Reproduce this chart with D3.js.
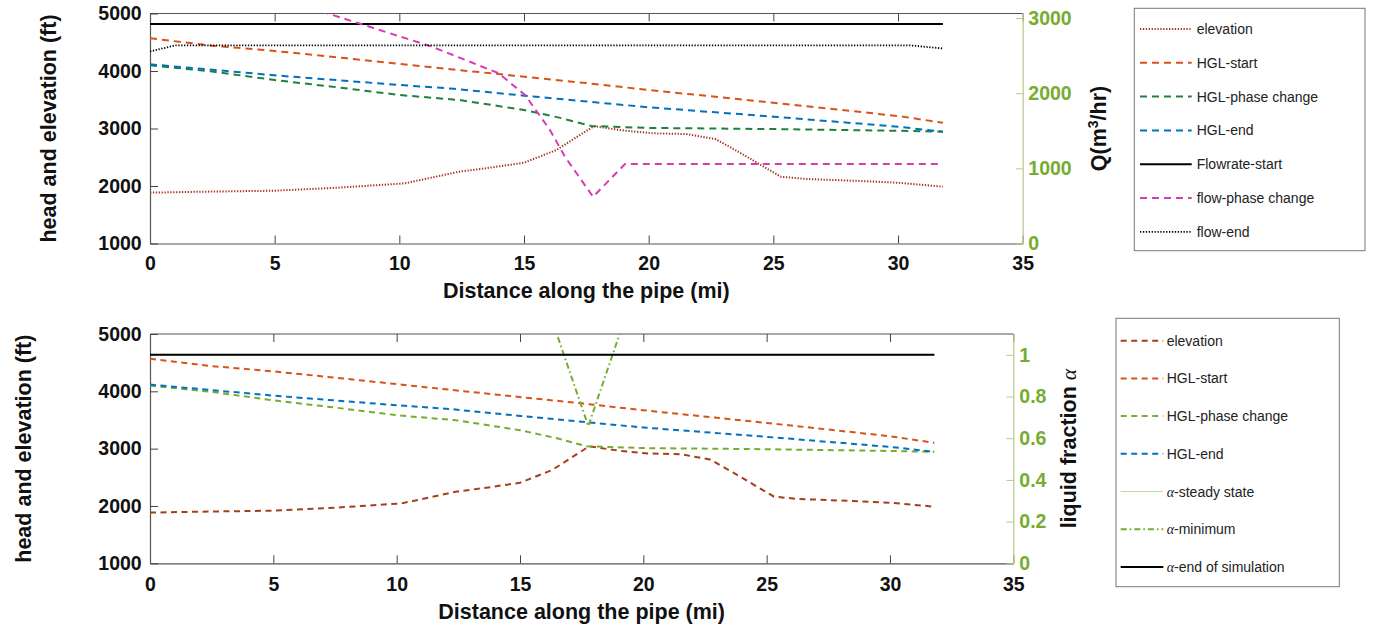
<!DOCTYPE html>
<html>
<head>
<meta charset="utf-8">
<script src="https://cdn.jsdelivr.net/npm/d3@7/dist/d3.min.js"></script>
<style>
  html, body { margin: 0; padding: 0; background: #fff; }
  svg { display: block; font-family: "Liberation Sans", Arial, sans-serif; }
</style>
</head>
<body>
<svg id="chart" width="1373" height="627"></svg>
<script>
// ---- tick values ----
const distTicks = [0, 5, 10, 15, 20, 25, 30, 35];
const headTicks = [1000, 2000, 3000, 4000, 5000];
const flowTicks = [0, 1000, 2000, 3000];
const alphaTicks = [0, 0.2, 0.4, 0.6, 0.8, 1];

// ---- pipeline profile (mi, ft) ----
const elevMi = [0, 2, 5, 7.5, 10.2, 11.6, 12.4, 13.5, 15, 16.3, 17.8, 19.05, 20.2, 21.5, 22.7, 23.7, 24.5, 25.3, 26.3, 28.5, 30, 31.8];
const elevFt = [1884, 1900, 1918, 1970, 2045, 2174, 2249, 2310, 2405, 2626, 3040, 2962, 2916, 2904, 2812, 2569, 2365, 2162, 2122, 2087, 2057, 1988];

const hglStartMi = [0, 2.5, 5, 7.9, 11.1, 14.6, 17.5, 20, 25, 30, 31.8];
const hglStartFt = [4569, 4440, 4348, 4221, 4075, 3918, 3790, 3670, 3449, 3217, 3101];

const hglPhaseMi = [0, 2.5, 5, 7.5, 10, 12.4, 15, 16.5, 17.7, 20, 25, 30, 31.8];
const hglPhaseFt = [4100, 3990, 3843, 3717, 3583, 3496, 3322, 3180, 3043, 3010, 2990, 2960, 2944];

const hglEndMi = [0, 5.2, 10, 12.2, 15, 20, 25, 30, 31.8];
const hglEndFt = [4117, 3918, 3757, 3690, 3571, 3369, 3206, 3031, 2944];

// ---- flow rate (mi, m3/hr) ----
const flowStartMi = [0, 31.8];
const flowStartQ = [2920, 2920];

const flowPhaseMi = [0, 6.95, 8.55, 9.89, 11.29, 13.97, 15.04, 16.04, 16.64, 17.77, 19.05, 31.8];
const flowPhaseQ = [3810, 3080, 2911, 2768, 2621, 2267, 1977, 1511, 1155, 621, 1057, 1057];

const flowEndMi = [0, 1, 30.5, 31.8];
const flowEndQ = [2555, 2635, 2635, 2595];

// ---- liquid fraction (mi, alpha) ----
const alphaSteadyMi = [0, 31.8];
const alphaSteady = [1, 1];
const alphaMinMi = [16.0, 17.77, 19.5];
const alphaMin = [1.27, 0.658, 1.26];
const alphaEndMi = [0, 31.8];
const alphaEnd = [1, 1];

const svg = d3.select("#chart");
const zip = (xs, ys) => xs.map((x, i) => [x, ys[i]]);

const DASH = "7,5", DOT = "1.3,1.6", DASHDOT = "6,3,1.6,3";
const GREEN_AX = "#77ac30";

function panel(cfg) {
  const { left, right, top, bottom } = cfg.box;
  const x = d3.scaleLinear().domain([0, 35]).range([left, right]);
  const yL = d3.scaleLinear().domain([1000, 5000]).range([bottom, top]);
  const yR = d3.scaleLinear().domain(cfg.rightDomain).range([bottom, top]);
  const g = svg.append("g");

  const clipId = "clip" + cfg.id;
  svg.append("clipPath").attr("id", clipId)
    .append("rect").attr("x", left).attr("y", top).attr("width", right - left).attr("height", bottom - top);

  // frame
  g.append("line").attr("x1", left).attr("x2", right).attr("y1", top).attr("y2", top)
    .attr("stroke", "#555").attr("stroke-width", 1);

  // bottom axis
  const ax = g.append("g").attr("transform", `translate(0,${bottom})`)
    .call(d3.axisBottom(x).tickValues(distTicks).tickSizeInner(-8).tickSizeOuter(0)
      .tickPadding(cfg.xPad).tickFormat(d3.format("d")));
  // top ticks
  const axT = g.append("g").attr("transform", `translate(0,${top})`)
    .call(d3.axisTop(x).tickValues(distTicks).tickSizeInner(-8).tickSizeOuter(0).tickFormat(""));
  axT.select(".domain").remove();
  // left axis
  const ay = g.append("g").attr("transform", `translate(${left},0)`)
    .call(d3.axisLeft(yL).tickValues(headTicks).tickSizeInner(-8).tickSizeOuter(0)
      .tickPadding(8.3).tickFormat(d3.format("d")));
  // right axis
  const ar = g.append("g").attr("transform", `translate(${right},0)`)
    .call(d3.axisRight(yR).tickValues(cfg.rightTicks).tickSizeInner(-7).tickSizeOuter(0)
      .tickPadding(cfg.rPad).tickFormat(cfg.rightFormat));

  [ax, axT, ay].forEach(a => {
    a.selectAll(".domain").attr("stroke", "#555").attr("stroke-width", 1.2);
    a.selectAll(".tick line").attr("stroke", "#444").attr("stroke-width", 1);
  });
  [ax, ay].forEach(a => a.selectAll("text").attr("fill", "#111").attr("font-size", 19.5)
    .attr("font-weight", "bold").attr("font-family", "Liberation Sans, Arial, sans-serif"));
  ar.selectAll(".domain").attr("stroke", "#b8c98e").attr("stroke-width", 1.2);
  ar.selectAll(".tick line").attr("stroke", "#b8c98e").attr("stroke-width", 1);
  ar.selectAll("text").attr("fill", GREEN_AX).attr("font-size", 19.5)
    .attr("font-weight", "bold").attr("font-family", "Liberation Sans, Arial, sans-serif");

  // series
  const plot = g.append("g").attr("clip-path", `url(#${clipId})`);
  cfg.series.forEach(s => {
    const yS = s.axis === "right" ? yR : yL;
    const line = d3.line().x(d => x(d[0])).y(d => yS(d[1]));
    plot.append("path").datum(zip(s.mi, s.val))
      .attr("d", line).attr("fill", "none")
      .attr("stroke", s.color).attr("stroke-width", s.width)
      .attr("stroke-dasharray", s.dash || null);
  });

  // axis titles
  const font = "Liberation Sans, Arial, sans-serif";
  g.append("text").attr("x", (left + right) / 2).attr("y", cfg.xTitleY)
    .attr("text-anchor", "middle").attr("font-size", 21.5).attr("font-weight", "bold")
    .attr("font-family", font).attr("fill", "#111").text("Distance along the pipe (mi)");
  g.append("text").attr("transform", `translate(${cfg.leftTitleX},${(top + bottom) / 2}) rotate(-90)`)
    .attr("text-anchor", "middle").attr("font-size", 21.5).attr("font-weight", "bold")
    .attr("font-family", font).attr("fill", "#111").text("head and elevation (ft)");
  const rt = g.append("text").attr("transform", `translate(${cfg.rightTitleX},${(top + bottom) / 2}) rotate(-90)`)
    .attr("text-anchor", "middle").attr("font-size", 21.5).attr("font-weight", "bold")
    .attr("font-family", font).attr("fill", "#111");
  cfg.rightTitle(rt);

  // legend
  const L = cfg.legend;
  const lg = svg.append("g");
  lg.append("rect").attr("x", L.x).attr("y", L.y).attr("width", L.w).attr("height", L.h)
    .attr("fill", "#fff").attr("stroke", "#777").attr("stroke-width", 1);
  cfg.series.forEach((s, i) => {
    const ry = L.firstRow + i * L.rowStep;
    lg.append("line").attr("x1", L.x1).attr("x2", L.x2).attr("y1", ry).attr("y2", ry)
      .attr("stroke", s.color).attr("stroke-width", s.width)
      .attr("stroke-dasharray", s.dash || null);
    const t = lg.append("text").attr("x", L.tx).attr("y", ry).attr("dy", "0.36em")
      .attr("font-size", 14).attr("font-family", font).attr("fill", "#222");
    if (s.alpha) {
      t.append("tspan").attr("font-family", "Liberation Serif, serif").attr("font-style", "italic").text("α");
    }
    t.append("tspan").text(s.label);
  });
}

// upper panel: head and flow rate
panel({
  id: "Top",
  box: { left: 150, right: 1022.7, top: 13.5, bottom: 243.5 },
  rightDomain: [0, 3060],
  rightTicks: flowTicks,
  rightFormat: d3.format("d"),
  xPad: 13, rPad: 5.6,
  xTitleY: 297.7, leftTitleX: 55.5, rightTitleX: 1105.5,
  rightTitle: t => {
    t.append("tspan").text("Q(m");
    t.append("tspan").attr("font-size", 14).attr("dy", -8).text("3");
    t.append("tspan").attr("dy", 8).text("/hr)");
  },
  series: [
    { label: "elevation", mi: elevMi, val: elevFt, color: "#a8321f", width: 2, dash: DOT },
    { label: "HGL-start", mi: hglStartMi, val: hglStartFt, color: "#d95319", width: 2, dash: DASH },
    { label: "HGL-phase change", mi: hglPhaseMi, val: hglPhaseFt, color: "#1f8040", width: 2, dash: DASH },
    { label: "HGL-end", mi: hglEndMi, val: hglEndFt, color: "#0072bd", width: 2, dash: DASH },
    { label: "Flowrate-start", mi: flowStartMi, val: flowStartQ, color: "#000", width: 2, axis: "right" },
    { label: "flow-phase change", mi: flowPhaseMi, val: flowPhaseQ, color: "#d63cb0", width: 2, dash: DASH, axis: "right" },
    { label: "flow-end", mi: flowEndMi, val: flowEndQ, color: "#000", width: 1.8, dash: DOT, axis: "right" }
  ],
  legend: { x: 1134.3, y: 8.3, w: 230.7, h: 242.4, firstRow: 29, rowStep: 33.8, x1: 1140, x2: 1191.7, tx: 1196.7 }
});

// lower panel: head and liquid fraction
panel({
  id: "Bottom",
  box: { left: 150, right: 1013.3, top: 334, bottom: 563.3 },
  rightDomain: [0, 1.1],
  rightTicks: alphaTicks,
  rightFormat: d => d === 0 ? "0" : String(+d.toFixed(1)),
  xPad: 13.7, rPad: 6,
  xTitleY: 619.4, leftTitleX: 30.5, rightTitleX: 1075.5,
  rightTitle: t => {
    t.append("tspan").text("liquid fraction ");
    t.append("tspan").attr("font-family", "Liberation Serif, serif").attr("font-style", "italic")
      .attr("font-weight", "normal").text("α");
  },
  series: [
    { label: "elevation", mi: elevMi, val: elevFt, color: "#a3401c", width: 2, dash: "6,4.5" },
    { label: "HGL-start", mi: hglStartMi, val: hglStartFt, color: "#d95319", width: 2, dash: "6,4.5" },
    { label: "HGL-phase change", mi: hglPhaseMi, val: hglPhaseFt, color: "#77ac30", width: 2, dash: "6,4.5" },
    { label: "HGL-end", mi: hglEndMi, val: hglEndFt, color: "#0072bd", width: 2, dash: "6,4.5" },
    { label: "-steady state", alpha: true, mi: alphaSteadyMi, val: alphaSteady, color: "#c9d4a0", width: 1.2, axis: "right" },
    { label: "-minimum", alpha: true, mi: alphaMinMi, val: alphaMin, color: "#77ac30", width: 2, dash: DASHDOT, axis: "right" },
    { label: "-end of simulation", alpha: true, mi: alphaEndMi, val: alphaEnd, color: "#000", width: 2, axis: "right" }
  ],
  legend: { x: 1116, y: 318.3, w: 223.3, h: 268.4, firstRow: 340.7, rowStep: 37.7, x1: 1120.7, x2: 1163.3, tx: 1166.7 }
});
</script>
</body>
</html>
